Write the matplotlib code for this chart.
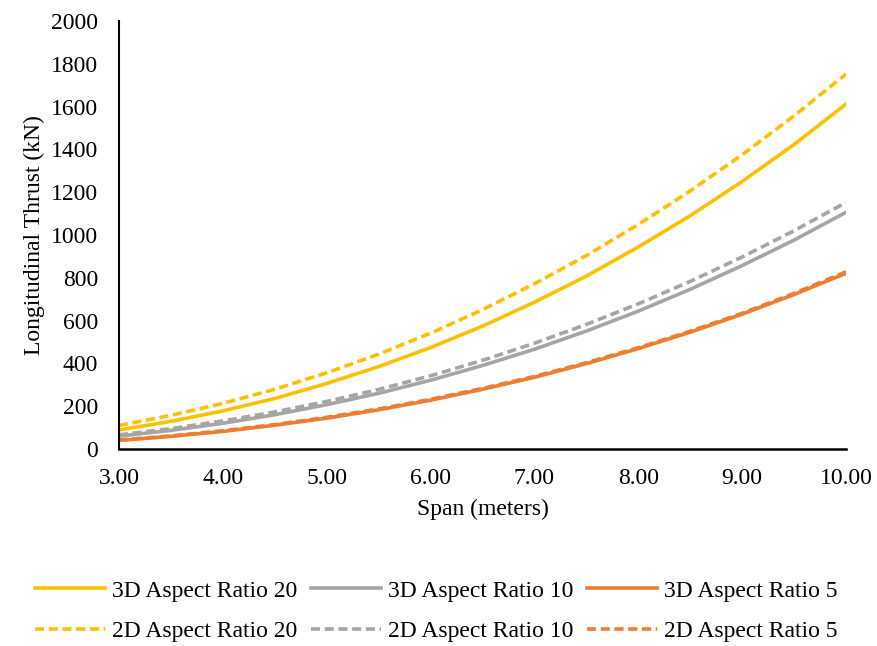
import matplotlib
matplotlib.use('Agg')
import matplotlib.pyplot as plt
import matplotlib.ticker as ticker

plt.rcParams['font.family'] = ['Liberation Serif', 'DejaVu Serif']

# values
span = [3.0, 3.5, 4.0, 4.5, 5.0, 5.5, 6.0, 6.5, 7.0, 7.5, 8.0, 8.5, 9.0, 9.5, 10.0]
ar20_3d = [89, 129, 178, 236, 306, 385, 474, 574, 686, 808, 944, 1090, 1250, 1423, 1612]
ar10_3d = [60, 87, 120, 160, 207, 260, 321, 390, 466, 551, 644, 746, 857, 976, 1106]
ar5_3d = [40, 59, 82, 111, 144, 183, 228, 279, 335, 399, 469, 546, 630, 722, 821]
ar20_2d = [110, 157, 213, 279, 356, 443, 541, 651, 772, 904, 1049, 1206, 1375, 1557, 1752]
ar10_2d = [66, 95, 131, 173, 222, 278, 342, 414, 494, 582, 678, 783, 897, 1020, 1152]
ar5_2d = [42, 61, 85, 114, 148, 187, 232, 283, 339, 403, 473, 550, 634, 727, 828]

yellow = '#FFC000'
grey = '#A5A5A5'
orange = '#ED7D31'
lw = 2.6
dash = (2.5, 1.3)
fs = 17

fig = plt.figure(figsize=(8.78, 6.46), dpi=100)
ax = fig.add_axes([0.1355, 0.305, 0.828, 0.6625])

l1, = ax.plot(span, ar20_3d, color=yellow, lw=lw, label='3D Aspect Ratio 20')
l2, = ax.plot(span, ar10_3d, color=grey, lw=lw, label='3D Aspect Ratio 10')
l3, = ax.plot(span, ar5_3d, color=orange, lw=lw, label='3D Aspect Ratio 5')
l4, = ax.plot(span, ar20_2d, color=yellow, lw=lw, dashes=dash, label='2D Aspect Ratio 20')
l5, = ax.plot(span, ar10_2d, color=grey, lw=lw, dashes=dash, label='2D Aspect Ratio 10')
l6, = ax.plot(span, ar5_2d, color=orange, lw=lw, dashes=dash, label='2D Aspect Ratio 5')

ax.set_xlim(3, 10)
ax.set_ylim(0, 2000)
ax.xaxis.set_major_locator(ticker.MultipleLocator(1))
ax.xaxis.set_major_formatter(ticker.FormatStrFormatter('%.2f'))
ax.yaxis.set_major_locator(ticker.MultipleLocator(200))

ax.spines['top'].set_visible(False)
ax.spines['right'].set_visible(False)
ax.spines['left'].set_linewidth(1.5)
ax.spines['bottom'].set_linewidth(1.8)
ax.tick_params(axis='both', length=0, labelsize=fs)
ax.tick_params(axis='x', pad=14)
ax.tick_params(axis='y', pad=15)

ax.set_xlabel('Span (meters)', fontsize=fs, labelpad=7)
ax.set_ylabel('Longitudinal Thrust (kN)', fontsize=fs, labelpad=4)

# column-major order so each row holds 3D / 2D
handles = [l1, l4, l2, l5, l3, l6]
fig.legend(handles=handles, labels=[h.get_label() for h in handles],
           ncol=3, loc='center', bbox_to_anchor=(0.497, 1 - 611 / 646),
           frameon=False, fontsize=fs, handlelength=2.95, handletextpad=0.3,
           columnspacing=0.6, labelspacing=0.8)

fig.savefig('out.png', dpi=100)
